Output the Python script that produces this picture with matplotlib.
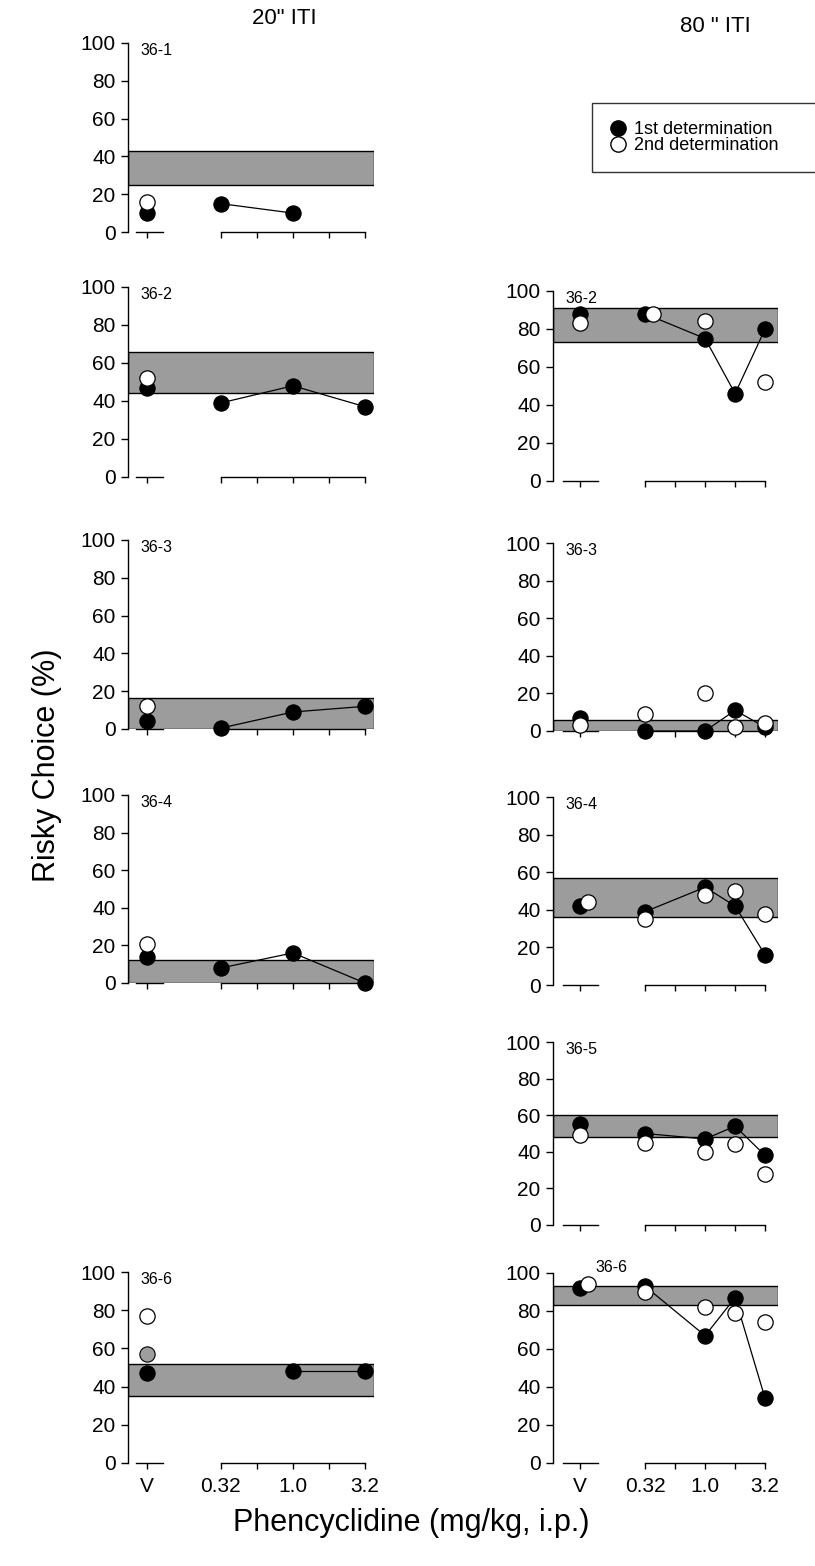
import numpy as np
import matplotlib.pyplot as plt
from matplotlib.lines import Line2D

plt.rcParams['font.family'] = ['Liberation Sans', 'DejaVu Sans']

nan = np.nan

# dose slots: vehicle, then 0.32, 0.56, 1.0, 1.8, 3.2 mg/kg
dose_labels = ['V', '0.32', '', '1.0', '', '3.2']

# 20" ITI  (values are % risky choice: V, 0.32, 0.56, 1.0, 1.8, 3.2)
iti20_36_1_first = [10, 15, nan, 10, nan, nan]
iti20_36_1_second = [16, nan, nan, nan, nan, nan]
iti20_36_1_band = [25, 43]

iti20_36_2_first = [47, 39, nan, 48, nan, 37]
iti20_36_2_second = [52, nan, nan, nan, nan, nan]
iti20_36_2_band = [44, 66]

iti20_36_3_first = [4, 0.5, nan, 9, nan, 12]
iti20_36_3_second = [12, nan, nan, nan, nan, nan]
iti20_36_3_band = [0, 16.5]

iti20_36_4_first = [14, 8, nan, 16, nan, 0]
iti20_36_4_second = [21, nan, nan, nan, nan, nan]
iti20_36_4_band = [0, 12]

iti20_36_6_first = [47, nan, nan, 48, nan, 48]
iti20_36_6_second = [77, nan, nan, nan, nan, nan]
iti20_36_6_third = [57, nan, nan, nan, nan, nan]
iti20_36_6_band = [35, 52]

# 80" ITI
iti80_36_2_first = [88, 88, nan, 75, 46, 80]
iti80_36_2_second = [83, 88, nan, 84, nan, 52]
iti80_36_2_band = [73, 91]

iti80_36_3_first = [7, 0, nan, 0, 11, 2]
iti80_36_3_second = [3, 9, nan, 20, 2, 4]
iti80_36_3_band = [0, 6]

iti80_36_4_first = [42, 39, nan, 52, 42, 16]
iti80_36_4_second = [44, 35, nan, 48, 50, 38]
iti80_36_4_band = [36, 57]

iti80_36_5_first = [55, 50, nan, 47, 54, 38]
iti80_36_5_second = [49, 45, nan, 40, 44, 28]
iti80_36_5_band = [48, 60]

iti80_36_6_first = [92, 93, nan, 67, 87, 34]
iti80_36_6_second = [94, 90, nan, 82, 79, 74]
iti80_36_6_band = [83, 93]

W, H = 815, 1566
fig = plt.figure(figsize=(W / 100, H / 100), dpi=100)

BAND = '#9c9c9c'


def panel(left, width, top, bottom, xlim, vx, seg, name, first, second, band,
          third=None, dx2=0.0, labels=False, name_pos=(12, 96)):
    ax = fig.add_axes([left / W, 1 - bottom / H, width / W, (bottom - top) / H])
    ax.set_xlim(*xlim)
    ax.set_ylim(0, 100)
    xs = np.array([vx, 0, 1, 2, 3, 4], dtype=float)

    ax.axhspan(band[0], band[1], facecolor=BAND, edgecolor='black', lw=1.0, zorder=1)

    # short baseline under vehicle and the dose axis
    ax.plot([vx - seg[0], vx + seg[1]], [0, 0], color='black', lw=1.0, clip_on=False, zorder=0)
    ax.plot([0, 4], [0, 0], color='black', lw=1.0, clip_on=False, zorder=0)

    f = np.array(first, dtype=float)
    ok = ~np.isnan(f[1:])
    ax.plot(xs[1:][ok], f[1:][ok], '-', color='black', lw=0.9, zorder=2)
    ax.plot(xs, f, 'o', ms=11, mfc='black', mec='black', mew=0.8, zorder=3, clip_on=False)
    if third is not None:
        ax.plot(xs, third, 'o', ms=11, mfc='#9e9e9e', mec='black', mew=0.8, zorder=3,
                clip_on=False)
    s = np.array(second, dtype=float)
    ax.plot(xs + dx2, s, 'o', ms=11, mfc='white', mec='black', mew=0.9, zorder=4,
            clip_on=False)

    for sp in ['top', 'right', 'bottom']:
        ax.spines[sp].set_visible(False)
    ax.spines['left'].set_linewidth(1.0)

    ax.set_yticks(range(0, 101, 20))
    ax.tick_params(axis='y', length=5, width=1, pad=4, labelsize=15)
    ax.set_xticks(xs)
    ax.tick_params(axis='x', length=4, width=1, pad=6, labelsize=15)
    if labels:
        ax.set_xticklabels(dose_labels)
    else:
        ax.set_xticklabels([])

    ax.text(name_pos[0] / width, name_pos[1] / 100, name, transform=ax.transAxes,
            fontsize=11.5, ha='left', va='center')
    return ax


# left column, 20" ITI
L_left, L_width, L_xlim, L_vx, L_seg = 128, 246, (-2.58, 4.25), -2.06, (0.3, 0.45)
panel(L_left, L_width, 43, 232, L_xlim, L_vx, L_seg, '36-1',
      iti20_36_1_first, iti20_36_1_second, iti20_36_1_band)
panel(L_left, L_width, 287, 477, L_xlim, L_vx, L_seg, '36-2',
      iti20_36_2_first, iti20_36_2_second, iti20_36_2_band)
panel(L_left, L_width, 540, 729, L_xlim, L_vx, L_seg, '36-3',
      iti20_36_3_first, iti20_36_3_second, iti20_36_3_band)
panel(L_left, L_width, 795, 983, L_xlim, L_vx, L_seg, '36-4',
      iti20_36_4_first, iti20_36_4_second, iti20_36_4_band)
panel(L_left, L_width, 1272, 1463, L_xlim, L_vx, L_seg, '36-6',
      iti20_36_6_first, iti20_36_6_second, iti20_36_6_band,
      third=iti20_36_6_third, labels=True)

# right column, 80" ITI
R_left, R_width, R_xlim, R_vx, R_seg = 553, 225, (-3.07, 4.43), -2.17, (0.57, 0.6)
panel(R_left, R_width, 291, 481, R_xlim, R_vx, R_seg, '36-2',
      iti80_36_2_first, iti80_36_2_second, iti80_36_2_band,
      dx2=np.array([0, 0.27, 0, 0, 0, 0]))
panel(R_left, R_width, 543, 731, R_xlim, R_vx, R_seg, '36-3',
      iti80_36_3_first, iti80_36_3_second, iti80_36_3_band)
panel(R_left, R_width, 797, 985, R_xlim, R_vx, R_seg, '36-4',
      iti80_36_4_first, iti80_36_4_second, iti80_36_4_band,
      dx2=np.array([0.25, 0, 0, 0, 0, 0]))
panel(R_left, R_width, 1042, 1225, R_xlim, R_vx, R_seg, '36-5',
      iti80_36_5_first, iti80_36_5_second, iti80_36_5_band)
panel(R_left, R_width, 1273, 1463, R_xlim, R_vx, R_seg, '36-6',
      iti80_36_6_first, iti80_36_6_second, iti80_36_6_band,
      dx2=np.array([0.27, 0, 0, 0, 0, 0]), labels=True, name_pos=(42, 103))

# column headings
narrow = ['Liberation Sans Narrow', 'Liberation Sans', 'DejaVu Sans']
fig.text(284 / W, 1 - 18 / H, '20" ITI', fontsize=16, ha='center', va='center', family=narrow)
fig.text(715 / W, 1 - 27 / H, '80 " ITI', fontsize=16, ha='center', va='center', family=narrow)

fig.text(47 / W, 1 - 765 / H, 'Risky Choice (%)', rotation=90, fontsize=22,
         ha='center', va='center')
fig.text(411 / W, 1 - 1523 / H, 'Phencyclidine (mg/kg, i.p.)', fontsize=22,
         ha='center', va='center')

handles = [Line2D([], [], ls='', marker='o', ms=11, mfc='black', mec='black'),
           Line2D([], [], ls='', marker='o', ms=11, mfc='white', mec='black')]
leg = fig.legend(handles, ['1st determination', '2nd determination'],
                 loc='upper left', bbox_to_anchor=(592 / W, 1 - 165 / H, 0.3, 62 / H),
                 mode='expand', fontsize=13, frameon=True, fancybox=False,
                 borderpad=1.0, labelspacing=-0.05, handlelength=0.9,
                 handletextpad=0.4, borderaxespad=0.0)
leg.get_frame().set_edgecolor('black')
leg.get_frame().set_linewidth(1.0)

fig.savefig('out.png', dpi=100)
